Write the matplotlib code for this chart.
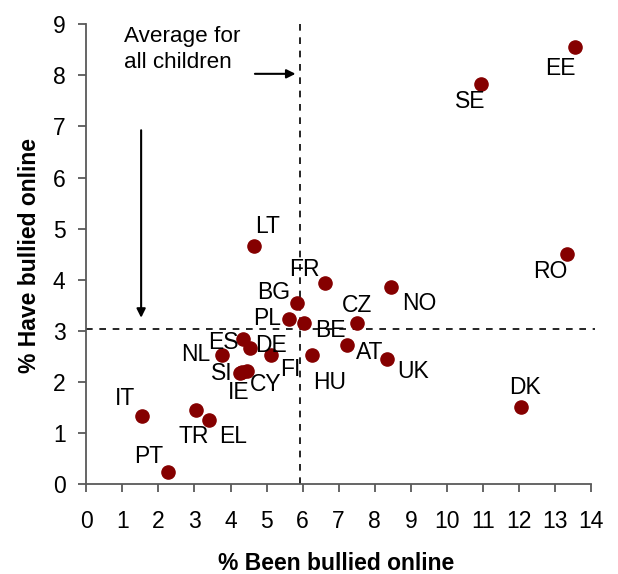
import matplotlib
matplotlib.use('Agg')
import matplotlib.pyplot as plt

plt.rcParams['font.family'] = ['Liberation Sans', 'DejaVu Sans']

# data
countries = ['EE', 'SE', 'RO', 'DK', 'LT', 'FR', 'NO', 'BG', 'PL', 'BE', 'CZ',
             'ES', 'DE', 'NL', 'FI', 'HU', 'AT', 'UK', 'SI', 'IE', 'CY',
             'IT', 'TR', 'EL', 'PT']
been_bullied = [13.56, 10.95, 13.33, 12.05, 4.65, 6.62, 8.45, 5.85, 5.62, 6.04, 7.51,
                4.35, 4.54, 3.77, 5.12, 6.26, 7.23, 8.34, 4.25, 4.32, 4.45,
                1.55, 3.05, 3.41, 2.27]
have_bullied = [8.55, 7.83, 4.50, 1.51, 4.66, 3.93, 3.86, 3.54, 3.23, 3.15, 3.15,
                2.84, 2.66, 2.53, 2.53, 2.53, 2.72, 2.45, 2.17, 2.20, 2.21,
                1.33, 1.45, 1.25, 0.23]
avg_been = 5.93
avg_have = 3.03

# label offsets in pixels (layout only)
offsets = {
    'EE': (-15, -21), 'SE': (-11, -17), 'RO': (-17, -17), 'DK': (4, 19),
    'LT': (14, 19), 'FR': (-21, 14), 'NO': (28, -17), 'BG': (-24, 11),
    'PL': (-22, 1), 'BE': (26, -7), 'CZ': (0, 18), 'ES': (-20, -4),
    'DE': (21, 3), 'NL': (-26, 0), 'FI': (19, -15), 'HU': (18, -28),
    'AT': (23, -7), 'UK': (26, -13), 'SI': (-18, 0), 'IE': (-3, -21),
    'CY': (19, -13), 'IT': (-17, 18), 'TR': (-3, -27), 'EL': (24, -16),
    'PT': (-19, 16),
}

fig = plt.figure(figsize=(6.18, 5.74), dpi=100)
ax = fig.add_axes([0.1397, 0.1568, 0.8166, 0.8009])

ax.axvline(avg_been, ymin=0, ymax=1, color='black', ls=(0, (4, 4)), lw=1.2, zorder=1)
ax.plot([0, 14.1], [avg_have, avg_have], color='black', ls=(0, (4, 4)), lw=1.2,
        zorder=1, clip_on=False)

ax.scatter(been_bullied, have_bullied, s=90, color='#850000', zorder=3)

for c, x, y in zip(countries, been_bullied, have_bullied):
    dx, dy = offsets[c]
    ax.annotate(c, (x, y), xytext=(dx, dy), textcoords='offset pixels',
                ha='center', va='center', fontsize=16.5)

ax.text(1.05, 8.5, 'Average for\nall children', fontsize=16.2, va='center',
        linespacing=1.3)
ax.annotate('', xy=(5.88, 8.03), xytext=(4.6, 8.03),
            arrowprops=dict(arrowstyle='-|>', color='black', lw=1.5,
                            mutation_scale=13))
ax.annotate('', xy=(1.52, 3.2), xytext=(1.52, 6.98),
            arrowprops=dict(arrowstyle='-|>', color='black', lw=1.5,
                            mutation_scale=13))

ax.set_xlim(0, 14)
ax.set_ylim(0, 9)
ax.set_xticks(range(0, 15))
ax.set_yticks(range(0, 10))
for s in ['top', 'right']:
    ax.spines[s].set_visible(False)
for s in ['left', 'bottom']:
    ax.spines[s].set_color('#595959')
    ax.spines[s].set_linewidth(1.3)
ax.tick_params(axis='both', colors='#595959', length=6, width=1.3, labelsize=16.5,
               labelcolor='black')
ax.tick_params(axis='x', pad=13)
ax.tick_params(axis='y', pad=9)

fig.text(0.544, 0.019, '% Been bullied online', fontsize=16.5, fontweight='bold',
         ha='center', va='center')
fig.text(0.047, 0.555, '% Have bullied online', fontsize=16.5, fontweight='bold',
         ha='center', va='center', rotation=90)

fig.savefig('out.png', dpi=100)
